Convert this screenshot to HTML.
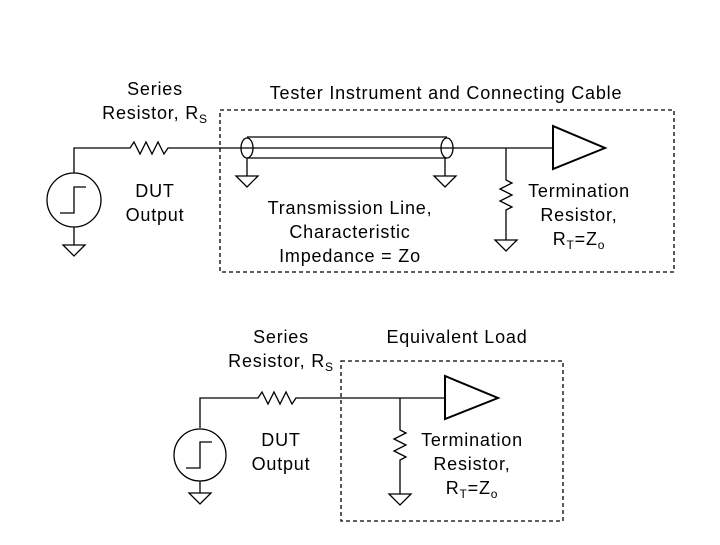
<!DOCTYPE html>
<html><head><style>body{margin:0;background:#fff}svg text{font-family:"Liberation Sans",Arial,sans-serif;font-size:18px;letter-spacing:0.8px;fill:#000}</style></head><body>
<svg width="720" height="540" viewBox="0 0 720 540" xmlns="http://www.w3.org/2000/svg">
<g fill="none" stroke="#000" stroke-width="1.3">
<rect x="220" y="110" width="454" height="162" stroke-dasharray="4,3"/>
<path d="M74 173 V148 H130 l4 -6 l6 12 l6 -12 l6 12 l6 -12 l6 12 l4 -6 H553"/>
<circle cx="74" cy="200" r="27"/>
<path d="M60 213 H74 V187 H86"/>
<path d="M74 227 V245 M63 245 H85 L74 256 Z"/>
<path d="M247 137 H447 M247 158 H447"/>
<ellipse cx="247" cy="148" rx="6" ry="10"/>
<ellipse cx="447" cy="148" rx="6" ry="10"/>
<path d="M247 158 V176 M236 176 H258 L247 187 Z"/>
<path d="M445 158 V176 M434 176 H456 L445 187 Z"/>
<path d="M506 148 V180 l6 3 l-12 6 l12 6 l-12 6 l12 6 l-6 3 V240 M495 240 H517 L506 251 Z"/>
<path d="M553 126 V169 L605 148 Z" stroke-width="2"/>
<rect x="341" y="361" width="222" height="160" stroke-dasharray="4,3"/>
<path d="M200 428 V398 H258 l4 -6 l6 12 l6 -12 l6 12 l6 -12 l6 12 l4 -6 H445"/>
<circle cx="200" cy="455" r="26"/>
<path d="M186 468 H200 V442 H212"/>
<path d="M200 481 V493 M189 493 H211 L200 504 Z"/>
<path d="M400 398 V430 l6 3 l-12 6 l12 6 l-12 6 l12 6 l-6 3 V494 M389 494 H411 L400 505 Z"/>
<path d="M445 376 V419 L498 398 Z" stroke-width="2"/>
</g>
<text x="155" y="95" text-anchor="middle">Series</text>
<text x="155" y="119" text-anchor="middle">Resistor, R<tspan font-size="12" dy="4">S</tspan></text>
<text x="155" y="197" text-anchor="middle">DUT</text>
<text x="155" y="221" text-anchor="middle">Output</text>
<text x="446" y="99" text-anchor="middle">Tester Instrument and Connecting Cable</text>
<text x="350" y="214" text-anchor="middle">Transmission Line,</text>
<text x="350" y="238" text-anchor="middle">Characteristic</text>
<text x="350" y="262" text-anchor="middle">Impedance = Zo</text>
<text x="579" y="197" text-anchor="middle">Termination</text>
<text x="579" y="221" text-anchor="middle">Resistor,</text>
<text x="579" y="245" text-anchor="middle">R<tspan font-size="12" dy="4">T</tspan><tspan dy="-4">=Z</tspan><tspan font-size="12" dy="4">o</tspan></text>
<text x="281" y="343" text-anchor="middle">Series</text>
<text x="281" y="367" text-anchor="middle">Resistor, R<tspan font-size="12" dy="4">S</tspan></text>
<text x="281" y="446" text-anchor="middle">DUT</text>
<text x="281" y="470" text-anchor="middle">Output</text>
<text x="457" y="343" text-anchor="middle">Equivalent Load</text>
<text x="472" y="446" text-anchor="middle">Termination</text>
<text x="472" y="470" text-anchor="middle">Resistor,</text>
<text x="472" y="494" text-anchor="middle">R<tspan font-size="12" dy="4">T</tspan><tspan dy="-4">=Z</tspan><tspan font-size="12" dy="4">o</tspan></text>
</svg>
</body></html>
